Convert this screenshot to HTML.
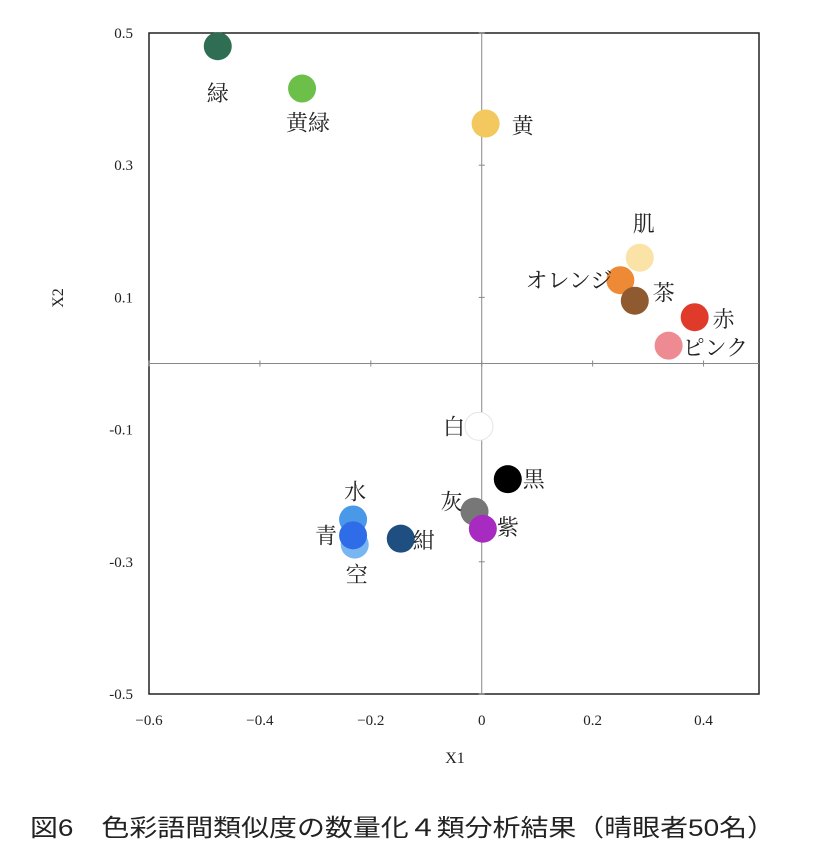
<!DOCTYPE html>
<html><head><meta charset="utf-8"><style>
body{margin:0;background:#fff;}
svg text{font-family:"Liberation Serif","Noto Serif CJK SC",serif;}
</style></head><body>
<svg id="chart" width="827" height="847">
<g id="axes"></g><g id="marks"></g>
<text x="30" y="836" font-size="24" text-anchor="start" textLength="745" lengthAdjust="spacingAndGlyphs" fill="#222" style='font-family:"Liberation Sans","Noto Sans CJK JP",sans-serif'>図6　色彩語間類似度の数量化４類分析結果（晴眼者50名）</text>
</svg>
<script>
const names=["緑","黄緑","黄","肌","オレンジ","茶","赤","ピンク","白","黒","灰","紫","水","空","青","紺"];
const xVals=[-0.476,-0.324,0.007,0.285,0.25,0.276,0.384,0.337,-0.005,0.047,-0.013,0.002,-0.232,-0.229,-0.232,-0.146];
const yVals=[0.48,0.416,0.363,0.16,0.126,0.095,0.07,0.027,-0.095,-0.175,-0.224,-0.25,-0.236,-0.274,-0.26,-0.265];
const colors=["#2f6e52","#6cc04a","#f2c85f","#fbe2a6","#ee8a35","#8f5a30","#e03a2a","#ee8a92","#ffffff","#000000","#777777","#a72bc0","#4a98e8","#78b6f2","#2f6de8","#1f4e80"];
const xTicks=[-0.6,-0.4,-0.2,0,0.2,0.4];
const yTicks=[0.5,0.3,0.1,-0.1,-0.3,-0.5];
const xTickLabels=["−0.6","−0.4","−0.2","0","0.2","0.4"];
const yTickLabels=["0.5","0.3","0.1","-0.1","-0.3","-0.5"];
const lab=[[0,55,"middle"],[6,42,"middle"],[26,10,"start"],[4,-26,"middle"],[-8,8,"end"],[18,0,"start"],[18,10,"start"],[14,10,"start"],[-14,8,"end"],[15,8,"start"],[-12,-2,"end"],[14,6,"start"],[2,-20,"middle"],[2,38,"middle"],[-16,8,"end"],[12,10,"start"]];
const L=149,R=759,T=33,B=694;
const sx=v=>L+(v+0.6)/1.1*(R-L), sy=v=>T+(0.5-v)/1.0*(B-T);
const NS="http://www.w3.org/2000/svg";
function mk(t,a,p){const e=document.createElementNS(NS,t);for(const k in a)e.setAttribute(k,a[k]);p.appendChild(e);return e;}
const ax=document.getElementById('axes'),mg=document.getElementById('marks');
let f=mk('rect',{x:L,y:T,width:R-L,height:B-T,fill:'none',stroke:'#222','stroke-width':1.5},ax);

let z=mk('line',{x1:sx(0),x2:sx(0),y1:T,y2:B,stroke:'#888'},ax);

z=mk('line',{x1:L,x2:R,y1:sy(0),y2:sy(0),stroke:'#888'},ax);

xTicks.forEach((v,i)=>{let t=mk('text',{x:sx(v),y:725,'font-size':15,'text-anchor':'middle',fill:'#222'},ax);t.textContent=xTickLabels[i];

let m=mk('line',{x1:sx(v),x2:sx(v),y1:sy(0)-3,y2:sy(0)+3,stroke:'#888'},ax);
});
yTicks.forEach((v,i)=>{let t=mk('text',{x:133,y:sy(v)+5,'font-size':15,'text-anchor':'end',fill:'#222'},ax);t.textContent=yTickLabels[i];

let m=mk('line',{x1:sx(0)-3,x2:sx(0)+3,y1:sy(v),y2:sy(v),stroke:'#888'},ax);
});
let xt=mk('text',{x:455,y:763,'font-size':16,'text-anchor':'middle',fill:'#222'},ax);xt.textContent='X1';

let yt=mk('text',{x:0,y:0,'font-size':16,'text-anchor':'middle',fill:'#222',transform:'translate(63,298) rotate(-90)'},ax);yt.textContent='X2';

names.forEach((n,i)=>{const cx=sx(xVals[i]),cy=sy(yVals[i]);
let c=mk('circle',{cx:cx,cy:cy,r:14,fill:colors[i]},mg);
if(colors[i]==="#ffffff"){c.setAttribute('stroke','#e4e4e4');c.setAttribute('stroke-width','1');}

let t=mk('text',{x:cx+lab[i][0],y:cy+lab[i][1],'font-size':22,'text-anchor':lab[i][2],fill:'#222'},mg);t.textContent=n;
});
</script>
</body></html>
